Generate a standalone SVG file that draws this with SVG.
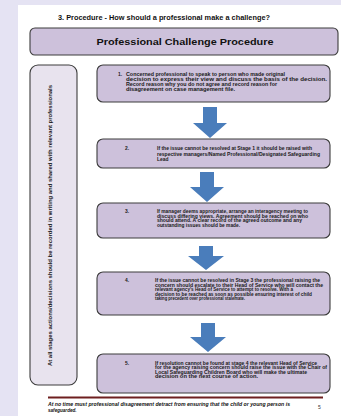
<svg xmlns="http://www.w3.org/2000/svg" width="341" height="416" viewBox="0 0 341 416">
<style>
.box{fill:#cdc1db;stroke:#3c3c3c;stroke-width:1.1}
.side{fill:#e8e3ee;stroke:#3c3c3c;stroke-width:1.1}
.t{font-family:"Liberation Sans",Arial,sans-serif;font-size:4.9px;font-weight:bold;fill:#1a1a1a}
.arrow{fill:#4a7dbb}
.foot{font-family:"Liberation Sans",Arial,sans-serif;font-size:4.6px;font-style:italic;font-weight:bold;fill:#111}
</style>
<rect x="0" y="0" width="341" height="416" fill="#e5e3f3"/>
<rect x="18" y="5" width="323" height="411" fill="#ffffff"/>
<text x="58" y="19.5" font-family="'Liberation Sans',Arial,sans-serif" font-size="6.3" font-weight="bold" fill="#111" textLength="212" lengthAdjust="spacingAndGlyphs">3.  Procedure - How should a professional make a challenge?</text>
<g id="header">
<rect class="box" x="30" y="28" width="308" height="27" rx="5"/>
<text x="185" y="44.5" text-anchor="middle" font-family="'Liberation Sans',Arial,sans-serif" font-size="9.5" font-weight="bold" fill="#111" textLength="177" lengthAdjust="spacingAndGlyphs">Professional Challenge Procedure</text>
</g>
<g id="side">
<rect class="side" x="30" y="65" width="47" height="320" rx="8"/>
<text transform="translate(51.5,366) rotate(-90)" font-family="'Liberation Sans',Arial,sans-serif" font-size="5" font-weight="bold" fill="#1a1a1a" textLength="281" lengthAdjust="spacingAndGlyphs">At all stages actions/decisions should be recorded in writing and shared with relevant professionals</text>
</g>
<g id="step1">
<rect class="box" x="97" y="65" width="233" height="37" rx="6"/>
<text class="t" x="118" y="76">1.</text>
<text class="t" x="126" y="76" textLength="159" lengthAdjust="spacingAndGlyphs">Concerned professional to speak to person who made original</text>
<text class="t" x="126" y="81" textLength="201" lengthAdjust="spacingAndGlyphs">decision to express their view and discuss the basis of the decision.</text>
<text class="t" x="126" y="86" textLength="151" lengthAdjust="spacingAndGlyphs">Record reason why you do not agree and record reason for</text>
<text class="t" x="126" y="91" textLength="109" lengthAdjust="spacingAndGlyphs">disagreement on case management file.</text>
</g>
<g id="step2">
<rect class="box" x="97" y="139" width="233" height="29" rx="6"/>
<text class="t" x="125" y="150">2.</text>
<text class="t" x="157" y="150" textLength="155" lengthAdjust="spacingAndGlyphs">If the issue cannot be resolved at Stage 1 it should be raised with</text>
<text class="t" x="157" y="155.5" textLength="163" lengthAdjust="spacingAndGlyphs">respective managers/Named Professional/Designated Safeguarding</text>
<text class="t" x="157" y="161">Lead</text>
</g>
<g id="step3">
<rect class="box" x="97" y="203" width="233" height="35" rx="6"/>
<text class="t" x="125" y="213">3.</text>
<text class="t" x="157" y="213" textLength="151" lengthAdjust="spacingAndGlyphs">If manager deems appropriate, arrange an interagency meeting to</text>
<text class="t" x="157" y="217.5" textLength="151" lengthAdjust="spacingAndGlyphs">discuss differing views. Agreement should be reached on who</text>
<text class="t" x="157" y="222" textLength="145" lengthAdjust="spacingAndGlyphs">should attend.   A clear record of the agreed outcome and any</text>
<text class="t" x="157" y="226.5" textLength="83" lengthAdjust="spacingAndGlyphs">outstanding issues should be made.</text>
</g>
<g id="step4">
<rect class="box" x="97" y="272" width="233" height="43" rx="6"/>
<text class="t" x="125" y="282">4.</text>
<text class="t" x="155" y="282" textLength="165" lengthAdjust="spacingAndGlyphs">If the issue cannot be resolved in Stage 3 the professional raising the</text>
<text class="t" x="155" y="286.5" textLength="168" lengthAdjust="spacingAndGlyphs">concern should escalate to their Head of Service who will contact the</text>
<text class="t" x="155" y="291" textLength="138" lengthAdjust="spacingAndGlyphs">relevant agency's Head of Service to attempt to resolve. With a</text>
<text class="t" x="155" y="295.5" textLength="157" lengthAdjust="spacingAndGlyphs">decision to be reached as soon as possible ensuring interest of child</text>
<text class="t" x="155" y="300" textLength="90" lengthAdjust="spacingAndGlyphs">taking precedent over professional stalemate.</text>
</g>
<g id="step5">
<rect class="box" x="97" y="354" width="233" height="39" rx="6"/>
<text class="t" x="125" y="364.5">5.</text>
<text class="t" x="155" y="364.5" textLength="162" lengthAdjust="spacingAndGlyphs">If resolution cannot be found at stage 4 the relevant Head of Service</text>
<text class="t" x="155" y="369" textLength="172" lengthAdjust="spacingAndGlyphs">for the agency raising concern should raise the issue with the Chair of</text>
<text class="t" x="155" y="373.5" textLength="152" lengthAdjust="spacingAndGlyphs">Local Safeguarding Children Board who will make the ultimate</text>
<text class="t" x="155" y="378" textLength="103" lengthAdjust="spacingAndGlyphs">decision on the next course of action.</text>
</g>
<g id="connectors">
<polygon class="arrow" points="203,107 217,107 217,123 227,123 210,138 193,123 203,123"/>
<polygon class="arrow" points="200,172 214,172 214,187 224,187 207,202 190,187 200,187"/>
<polygon class="arrow" points="199,246 213,246 213,256 224,256 206,270 188,256 199,256"/>
<polygon class="arrow" points="201,323 215,323 215,337 226,337 208,352 190,337 201,337"/>
</g>
<g id="footer">
<rect x="48" y="396.5" width="275" height="2" fill="#6e1f1f"/>
<text class="foot" x="48" y="406" textLength="242" lengthAdjust="spacingAndGlyphs">At no time must professional disagreement detract from ensuring that the child or young person is</text>
<text class="foot" x="48" y="411.5">safeguarded.</text>
<text x="318" y="409" font-family="'Liberation Sans',Arial,sans-serif" font-size="5" fill="#333">5</text>
</g>
</svg>
